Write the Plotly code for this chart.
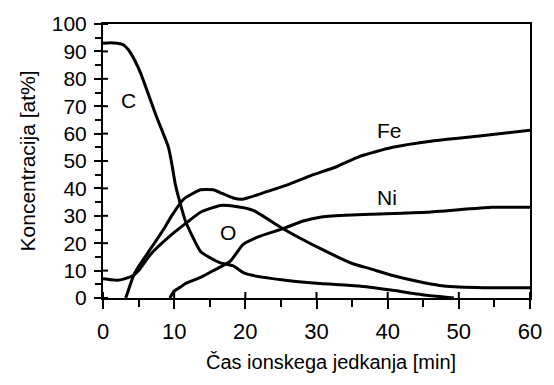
import plotly.graph_objects as go

# Data
C_x = [0, 1, 2, 2.8, 3.6, 4.5, 5.3, 7.4, 9.2, 9.7, 10.2, 11.6, 13.7, 15.1, 16.5, 18.3, 19.7, 21.1, 25.9, 30.5, 36, 40.7, 45.5, 49.3]
C_y = [93, 93.2, 93, 92.5, 90.5, 86.5, 82, 67, 55, 48.5, 41, 28, 17, 14.6, 12.8, 11.7, 9.3, 8.2, 6.4, 5.3, 4.4, 2.8, 1, 0]

Fe_x = [3.2, 4.3, 5, 6.7, 8.5, 9.8, 11.3, 13.7, 15.5, 16.5, 18.3, 19.5, 20.3, 23, 25.9, 29, 32.9, 36, 40.7, 46.3, 52.9, 60]
Fe_y = [0, 8.3, 11.5, 18, 25, 30.6, 36, 39.5, 39.5, 38.4, 36.5, 36, 36.5, 38.8, 41.3, 44.5, 48, 51.6, 55, 57.3, 59.1, 61.2]

O_x = [0, 1, 2, 3, 4.3, 5, 6.7, 9.8, 11.9, 13.7, 16.5, 18.5, 21.1, 25.3, 30.5, 35.1, 37.5, 40.7, 44, 47.3, 52.4, 60]
O_y = [7, 6.7, 6.5, 7, 8.3, 10, 16, 23.5, 27.8, 31.3, 33.8, 33.5, 32, 25.3, 18.1, 12.5, 10.7, 8.2, 6.2, 4.6, 3.8, 3.7]

Ni_x = [9.4, 10, 10.9, 11.6, 13.7, 15.5, 17.9, 19.7, 22, 25.3, 28, 30.5, 34, 37.5, 45.5, 54.7, 60]
Ni_y = [0, 2.5, 4, 5.3, 7.5, 10, 13.5, 19.6, 22.5, 25.3, 28, 29.5, 30.2, 30.6, 31.3, 33.1, 33.1]

labels = ["C", "Fe", "Ni", "O"]
label_x = [3.6, 40.3, 39.9, 17.5]
label_y = [72, 61, 36.5, 24]

x_title = "Čas ionskega jedkanja [min]"
y_title = "Koncentracija [at%]"

x_ticks = [0, 10, 20, 30, 40, 50, 60]
y_ticks = [0, 10, 20, 30, 40, 50, 60, 70, 80, 90, 100]

x_range = [0, 60]
y_range = [0, 100]

FONT = "Liberation Sans, Arial, sans-serif"

fig = go.Figure()
for xs, ys in [(C_x, C_y), (Fe_x, Fe_y), (O_x, O_y), (Ni_x, Ni_y)]:
    fig.add_trace(go.Scatter(x=xs, y=ys, mode="lines",
                             line=dict(color="black", width=3, shape="spline", smoothing=0.5),
                             showlegend=False, hoverinfo="skip", cliponaxis=False))

for t, lx, ly in zip(labels, label_x, label_y):
    fig.add_annotation(x=lx, y=ly, text=t, showarrow=False,
                       font=dict(family=FONT, size=21, color="black"))

fig.add_annotation(xref="paper", yref="paper", x=0.534, y=-0.235, xanchor="center", yanchor="middle",
                   text=x_title, showarrow=False, font=dict(family=FONT, size=20, color="black"))
fig.add_annotation(xref="paper", yref="paper", x=-0.177, y=0.5, xanchor="center", yanchor="middle",
                   text=y_title, textangle=-90,
                   showarrow=False, font=dict(family=FONT, size=21, color="black"))

# inner halves of the crossing major ticks
for tv in x_ticks:
    fig.add_shape(type="line", xref="x", yref="paper", x0=tv, x1=tv,
                  ysizemode="pixel", yanchor=0, y0=0, y1=6,
                  line=dict(color="black", width=2))
for tv in y_ticks:
    fig.add_shape(type="line", yref="y", xref="paper", y0=tv, y1=tv,
                  xsizemode="pixel", xanchor=0, x0=0, x1=5,
                  line=dict(color="black", width=2))

fig.update_layout(
    width=554, height=385,
    margin=dict(l=103, r=22, t=17, b=87),
    paper_bgcolor="white", plot_bgcolor="white",
    font=dict(family=FONT, color="black"),
    xaxis=dict(range=x_range, tickvals=x_ticks, showgrid=False, zeroline=False,
               showline=True, linecolor="black", linewidth=2, mirror=True,
               ticks="outside", ticklen=9, tickwidth=2, tickcolor="black",
               minor=dict(dtick=5, ticks="outside", ticklen=7, tickwidth=2, tickcolor="black"),
               ticklabelstandoff=4,
               tickfont=dict(size=22, family=FONT, color="black")),
    yaxis=dict(range=y_range, tickvals=y_ticks, showgrid=False, zeroline=False,
               showline=True, linecolor="black", linewidth=2, mirror=True,
               ticks="outside", ticklen=7, tickwidth=2, tickcolor="black",
               minor=dict(dtick=5, ticks="outside", ticklen=6, tickwidth=2, tickcolor="black"),
               ticklabelstandoff=3,
               tickfont=dict(size=21, family=FONT, color="black")),
)

fig.write_html("out.html")
